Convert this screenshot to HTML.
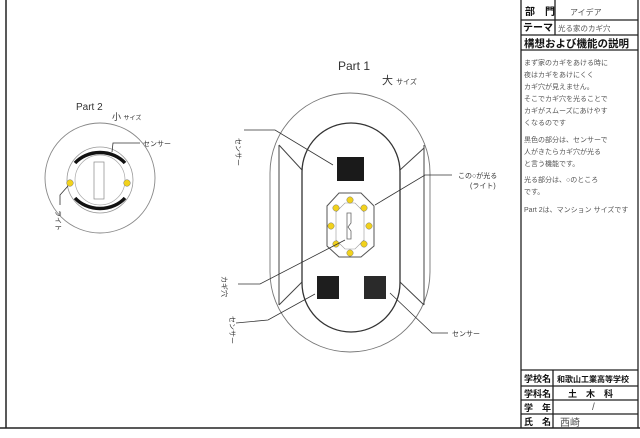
<!DOCTYPE html>
<html><head><meta charset="utf-8"><style>
body{margin:0;background:#fff;}
svg{display:block;font-family:"Liberation Sans","Noto Sans CJK JP",sans-serif;}
.h{font-family:"Liberation Sans","Noto Sans CJK JP",sans-serif;}
</style></head><body>
<svg width="640" height="438" viewBox="0 0 640 438" xmlns="http://www.w3.org/2000/svg">
<rect width="640" height="438" fill="#fff"/>
<!-- frame -->
<line x1="6" y1="0" x2="6" y2="428" stroke="#222" stroke-width="1.5"/>
<line x1="0" y1="428" x2="640" y2="428" stroke="#222" stroke-width="1.5"/>
<!-- right panel -->
<g stroke="#222" stroke-width="1.3" fill="none">
<line x1="521" y1="0" x2="521" y2="428"/>
<line x1="638" y1="0" x2="638" y2="428"/>
<line x1="521" y1="20" x2="638" y2="20"/>
<line x1="521" y1="35" x2="638" y2="35"/>
<line x1="521" y1="50" x2="638" y2="50"/>
<line x1="555" y1="0" x2="555" y2="35"/>
<line x1="521" y1="370" x2="638" y2="370"/>
<line x1="521" y1="386" x2="638" y2="386"/>
<line x1="521" y1="400" x2="638" y2="400"/>
<line x1="521" y1="414" x2="638" y2="414"/>
<line x1="553" y1="370" x2="553" y2="428"/>
</g>
<g font-size="10" font-weight="bold" fill="#111">
<text x="525" y="15">部　門</text>
<text x="523" y="31">テーマ</text>
<text x="524" y="47" font-size="10.5">構想および機能の説明</text>
<text x="524" y="382" font-size="9">学校名</text>
<text x="524" y="397" font-size="9">学科名</text>
<text x="524" y="411" font-size="9">学　年</text>
<text x="524" y="425" font-size="9">氏　名</text>
<text x="557" y="382" font-size="8">和歌山工業高等学校</text>
<text x="568" y="397" font-size="9">土　木　科</text>
</g>
<g font-size="8" fill="#555">
<text x="570" y="15">アイデア</text>
<text x="558" y="31" font-size="7.5">光る家のカギ穴</text>
<text x="524" y="65" font-size="7">まず家のカギをあける時に</text>
<text x="524" y="77" font-size="7">夜はカギをあけにくく</text>
<text x="524" y="89" font-size="7">カギ穴が見えません。</text>
<text x="524" y="101" font-size="7">そこでカギ穴を光ることで</text>
<text x="524" y="113" font-size="7">カギがスムーズにあけやす</text>
<text x="524" y="125" font-size="7">くなるのです</text>
<text x="524" y="142" font-size="7">黒色の部分は、センサーで</text>
<text x="524" y="154" font-size="7">人がきたらカギ穴が光る</text>
<text x="524" y="166" font-size="7">と言う機能です。</text>
<text x="524" y="182" font-size="7">光る部分は、○のところ</text>
<text x="524" y="194" font-size="7">です。</text>
<text x="524" y="212" font-size="7">Part 2は、マンション サイズです</text>
<text x="592" y="410" font-size="10">/</text>
<text x="560" y="426" font-size="10">西崎</text>
</g>
<!-- Part 1 -->
<text x="338" y="70" font-size="12" fill="#333">Part 1</text>
<text x="382" y="84" font-size="11" fill="#333">大 <tspan font-size="7">サイズ</tspan></text>
<g fill="none" stroke="#777" stroke-width="0.9">
<rect x="270" y="93" width="160" height="259" rx="80" ry="80"/>
</g>
<g fill="none" stroke="#444" stroke-width="1">
<line x1="279" y1="145" x2="279" y2="305"/>
<line x1="424" y1="145" x2="424" y2="305"/>
<line x1="279" y1="145" x2="302" y2="170"/>
<line x1="424" y1="148" x2="400" y2="170"/>
<line x1="279" y1="305" x2="302" y2="282"/>
<line x1="424" y1="305" x2="400" y2="282"/>
</g>
<rect x="302" y="123" width="98" height="209" rx="49" ry="49" fill="#fff" stroke="#333" stroke-width="1.3"/>
<rect x="337" y="157" width="27" height="24" fill="#1a1a1a"/>
<rect x="317" y="276" width="22" height="23" fill="#1e1e1e"/>
<rect x="364" y="276" width="22" height="23" fill="#2a2a2a"/>
<polygon points="339,193 361,193 374,206 374,246 361,257 339,257 327,246 327,206" fill="#fff" stroke="#555"/>
<polygon points="345,203 355,203 364,212 364,240 355,249 345,249 336,240 336,212" fill="none" stroke="#999" stroke-width="0.6"/>
<path d="M347 213 h4 v10 l-3 4 l3 4 v8 h-4 z" fill="none" stroke="#666" stroke-width="0.8"/>
<g fill="#f2d21c" stroke="#777" stroke-width="0.5">
<circle cx="350" cy="200" r="3.2"/><circle cx="336" cy="208" r="3.2"/><circle cx="364" cy="208" r="3.2"/>
<circle cx="331" cy="226" r="3.2"/><circle cx="369" cy="226" r="3.2"/>
<circle cx="336" cy="244" r="3.2"/><circle cx="364" cy="244" r="3.2"/><circle cx="350" cy="253" r="3.2"/>
</g>
<g fill="none" stroke="#333" stroke-width="0.8">
<polyline points="244,130 275,130 333,165"/>
<polyline points="452,175 425,175 375,205"/>
<polyline points="238,284 260,284 345,240"/>
<polyline points="236,323 268,320 315,294"/>
<polyline points="448,333 432,333 390,293"/>
</g>
<g font-size="7" fill="#333">
<text x="236" y="138" transform="rotate(90 236 138)">センサー</text>
<text x="458" y="178">この○が光る</text>
<text x="470" y="188">(ライト)</text>
<text x="222" y="276" transform="rotate(90 222 276)">カギ穴</text>
<text x="230" y="316" transform="rotate(90 230 316)">センサー</text>
<text x="452" y="336">センサー</text>
</g>
<!-- Part 2 -->
<text x="76" y="110" font-size="10" fill="#333">Part 2</text>
<text x="112" y="120" font-size="9" fill="#333">小 <tspan font-size="6">サイズ</tspan></text>
<circle cx="100" cy="178" r="55" fill="none" stroke="#888" stroke-width="0.9"/>
<circle cx="100" cy="180" r="33" fill="none" stroke="#999" stroke-width="0.8"/>
<circle cx="100" cy="180" r="25" fill="none" stroke="#aaa" stroke-width="0.7"/>
<path d="M75 163 A32 28 0 0 1 125 163" fill="none" stroke="#111" stroke-width="3.5"/>
<path d="M75 198 A32 28 0 0 0 125 198" fill="none" stroke="#111" stroke-width="3.5"/>
<rect x="94" y="162" width="10" height="37" fill="none" stroke="#888" stroke-width="0.7"/>
<circle cx="70" cy="183" r="3.3" fill="#f2d21c" stroke="#777" stroke-width="0.5"/>
<circle cx="127" cy="183" r="3.3" fill="#f2d21c" stroke="#777" stroke-width="0.5"/>
<g fill="none" stroke="#333" stroke-width="0.8">
<polyline points="140,143 113,143 112,152"/>
<polyline points="60,205 60,195 68,186"/>
</g>
<text x="143" y="146" font-size="7" fill="#333">センサー</text>
<text x="56" y="210" font-size="7" fill="#333" transform="rotate(90 56 210)">ライト</text>
</svg>
</body></html>
